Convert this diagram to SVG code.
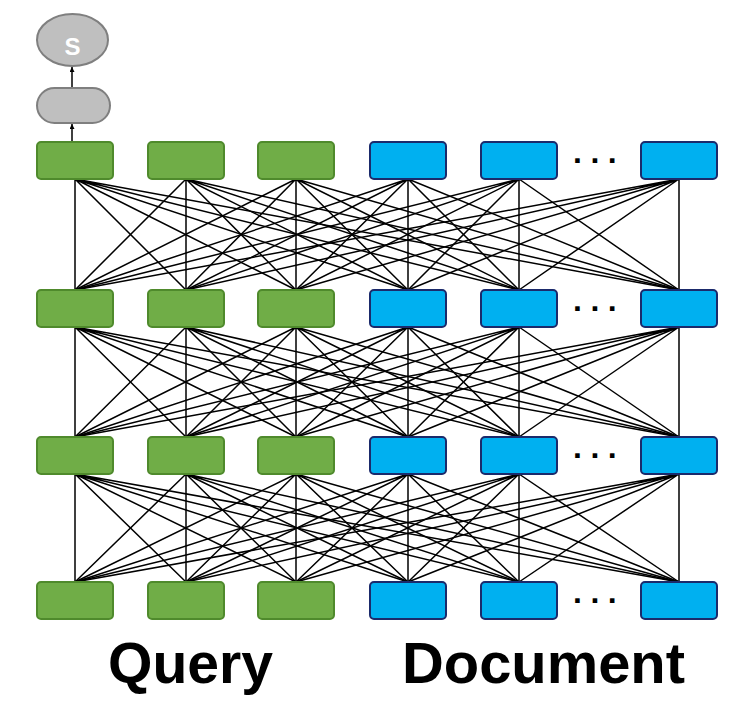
<svg xmlns="http://www.w3.org/2000/svg" width="741" height="711" viewBox="0 0 741 711">
<style>
.q{fill:#70ad47;stroke:#4f8a2c;stroke-width:2}
.d{fill:#00b0f0;stroke:#1b2a6b;stroke-width:2}
.g{fill:#bfbfbf;stroke:#7f7f7f;stroke-width:2}
.e{fill:none;stroke:#000;stroke-width:1.5}
.dots{font-family:"Liberation Sans",Arial,sans-serif;font-weight:bold;font-size:32px;letter-spacing:8.5px;fill:#000}
.lbl{font-family:"Liberation Sans",Arial,sans-serif;font-weight:bold;font-size:57px;fill:#000}
</style>
<defs>
<marker id="ah" viewBox="0 0 6 6" refX="6" refY="3" markerWidth="5" markerHeight="5" orient="auto" markerUnits="userSpaceOnUse"><path d="M0 0L6 3L0 6z" fill="#000"/></marker>
</defs>
<rect width="741" height="711" fill="#fff"/>
<g id="connectors">
<path class="e" d="M75 179L75 290M75 179L186 290M75 179L296 290M75 179L408 290M75 179L519 290M75 179L679 290"/>
<path class="e" d="M186 179L75 290M186 179L186 290M186 179L296 290M186 179L408 290M186 179L519 290M186 179L679 290"/>
<path class="e" d="M296 179L75 290M296 179L186 290M296 179L296 290M296 179L408 290M296 179L519 290M296 179L679 290"/>
<path class="e" d="M408 179L75 290M408 179L186 290M408 179L296 290M408 179L408 290M408 179L519 290M408 179L679 290"/>
<path class="e" d="M519 179L75 290M519 179L186 290M519 179L296 290M519 179L408 290M519 179L519 290M519 179L679 290"/>
<path class="e" d="M679 179L75 290M679 179L186 290M679 179L296 290M679 179L408 290M679 179L519 290M679 179L679 290"/>
<path class="e" d="M75 327L75 437M75 327L186 437M75 327L296 437M75 327L408 437M75 327L519 437M75 327L679 437"/>
<path class="e" d="M186 327L75 437M186 327L186 437M186 327L296 437M186 327L408 437M186 327L519 437M186 327L679 437"/>
<path class="e" d="M296 327L75 437M296 327L186 437M296 327L296 437M296 327L408 437M296 327L519 437M296 327L679 437"/>
<path class="e" d="M408 327L75 437M408 327L186 437M408 327L296 437M408 327L408 437M408 327L519 437M408 327L679 437"/>
<path class="e" d="M519 327L75 437M519 327L186 437M519 327L296 437M519 327L408 437M519 327L519 437M519 327L679 437"/>
<path class="e" d="M679 327L75 437M679 327L186 437M679 327L296 437M679 327L408 437M679 327L519 437M679 327L679 437"/>
<path class="e" d="M75 474L75 582M75 474L186 582M75 474L296 582M75 474L408 582M75 474L519 582M75 474L679 582"/>
<path class="e" d="M186 474L75 582M186 474L186 582M186 474L296 582M186 474L408 582M186 474L519 582M186 474L679 582"/>
<path class="e" d="M296 474L75 582M296 474L186 582M296 474L296 582M296 474L408 582M296 474L519 582M296 474L679 582"/>
<path class="e" d="M408 474L75 582M408 474L186 582M408 474L296 582M408 474L408 582M408 474L519 582M408 474L679 582"/>
<path class="e" d="M519 474L75 582M519 474L186 582M519 474L296 582M519 474L408 582M519 474L519 582M519 474L679 582"/>
<path class="e" d="M679 474L75 582M679 474L186 582M679 474L296 582M679 474L408 582M679 474L519 582M679 474L679 582"/>
<path class="e" d="M72 142L72 124" marker-end="url(#ah)"/>
<path class="e" d="M72 88L72 67" marker-end="url(#ah)"/>
</g>
<g id="score"><ellipse class="g" cx="72.5" cy="40" rx="35.5" ry="26"/><text x="72.5" y="55" text-anchor="middle" style="font-family:'Liberation Sans',Arial,sans-serif;font-weight:bold;font-size:24px;fill:#fff">S</text></g>
<g id="pool"><rect class="g" x="37" y="88" width="73" height="35" rx="17.5"/></g>
<g id="q1r1"><rect class="q" x="37" y="142" width="76" height="37" rx="4"/></g>
<g id="q2r1"><rect class="q" x="148" y="142" width="76" height="37" rx="4"/></g>
<g id="q3r1"><rect class="q" x="258" y="142" width="76" height="37" rx="4"/></g>
<g id="d1r1"><rect class="d" x="370" y="142" width="76" height="37" rx="4"/></g>
<g id="d2r1"><rect class="d" x="481" y="142" width="76" height="37" rx="4"/></g>
<g id="d3r1"><rect class="d" x="641" y="142" width="76" height="37" rx="4"/></g>
<g id="q1r2"><rect class="q" x="37" y="290" width="76" height="37" rx="4"/></g>
<g id="q2r2"><rect class="q" x="148" y="290" width="76" height="37" rx="4"/></g>
<g id="q3r2"><rect class="q" x="258" y="290" width="76" height="37" rx="4"/></g>
<g id="d1r2"><rect class="d" x="370" y="290" width="76" height="37" rx="4"/></g>
<g id="d2r2"><rect class="d" x="481" y="290" width="76" height="37" rx="4"/></g>
<g id="d3r2"><rect class="d" x="641" y="290" width="76" height="37" rx="4"/></g>
<g id="q1r3"><rect class="q" x="37" y="437" width="76" height="37" rx="4"/></g>
<g id="q2r3"><rect class="q" x="148" y="437" width="76" height="37" rx="4"/></g>
<g id="q3r3"><rect class="q" x="258" y="437" width="76" height="37" rx="4"/></g>
<g id="d1r3"><rect class="d" x="370" y="437" width="76" height="37" rx="4"/></g>
<g id="d2r3"><rect class="d" x="481" y="437" width="76" height="37" rx="4"/></g>
<g id="d3r3"><rect class="d" x="641" y="437" width="76" height="37" rx="4"/></g>
<g id="q1r4"><rect class="q" x="37" y="582" width="76" height="37" rx="4"/></g>
<g id="q2r4"><rect class="q" x="148" y="582" width="76" height="37" rx="4"/></g>
<g id="q3r4"><rect class="q" x="258" y="582" width="76" height="37" rx="4"/></g>
<g id="d1r4"><rect class="d" x="370" y="582" width="76" height="37" rx="4"/></g>
<g id="d2r4"><rect class="d" x="481" y="582" width="76" height="37" rx="4"/></g>
<g id="d3r4"><rect class="d" x="641" y="582" width="76" height="37" rx="4"/></g>
<g id="ellipses">
<text class="dots" x="573" y="162.5">...</text>
<text class="dots" x="573" y="310.5">...</text>
<text class="dots" x="573" y="457.5">...</text>
<text class="dots" x="573" y="602.5">...</text>
</g>
<g id="labels">
<text class="lbl" x="108" y="683" textLength="165" lengthAdjust="spacingAndGlyphs">Query</text>
<text class="lbl" x="402" y="683" textLength="283" lengthAdjust="spacingAndGlyphs">Document</text>
</g>
</svg>
